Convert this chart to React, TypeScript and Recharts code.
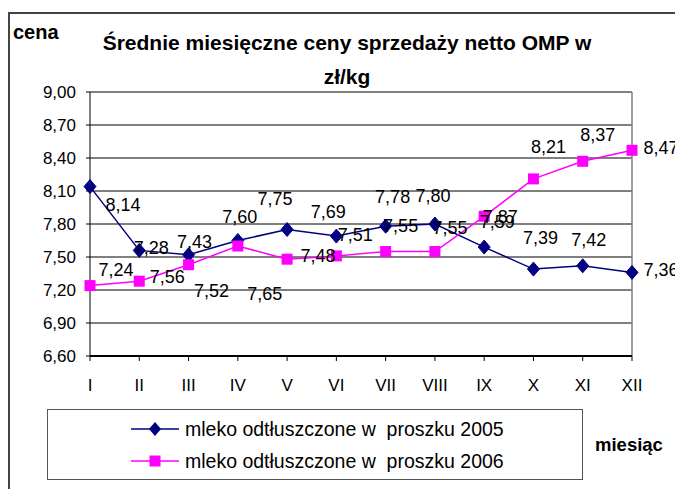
import {
  CartesianGrid,
  LabelList,
  Line,
  LineChart,
  ReferenceLine,
  XAxis,
  YAxis,
} from "recharts";

const months = ["I", "II", "III", "IV", "V", "VI", "VII", "VIII", "IX", "X", "XI", "XII"];
const prices2005 = [8.14, 7.56, 7.52, 7.65, 7.75, 7.69, 7.78, 7.8, 7.59, 7.39, 7.42, 7.36];
const prices2006 = [7.24, 7.28, 7.43, 7.6, 7.48, 7.51, 7.55, 7.55, 7.87, 8.21, 8.37, 8.47];
const yTicks = [6.6, 6.9, 7.2, 7.5, 7.8, 8.1, 8.4, 8.7, 9.0];

// label placement relative to each point (the original has them shuffled around)
const labelShift2005 = [
  [33, 18], [28, 27], [23, 36], [27, 53], [-12, -31], [-8, -24],
  [7, -29], [-2, -28], [13, -25], [7, -31], [6, -26], [29, -2],
];
const labelShift2006 = [
  [26, -16], [12, -33], [6, -23], [2, -29], [31, -3], [19, -21],
  [15, -26], [15, -24], [16, 1], [15, -32], [15, -26], [29, -2],
];

const NAVY = "#000080";
const MAGENTA = "#FF00FF";
const FONT = "'Liberation Sans', Arial, sans-serif";

const data = months.map((m, i) => ({
  month: m,
  y2005: prices2005[i],
  y2006: prices2006[i],
}));

const fmt = (v: number) => Number(v).toFixed(2).replace(".", ",");

function Diamond({ cx, cy }: any) {
  if (cx == null || cy == null) return null;
  return (
    <polygon
      points={`${cx},${cy - 7} ${cx + 6},${cy} ${cx},${cy + 7} ${cx - 6},${cy}`}
      fill={NAVY}
      stroke={NAVY}
    />
  );
}

function Square({ cx, cy }: any) {
  if (cx == null || cy == null) return null;
  return <rect x={cx - 5.5} y={cy - 5.5} width={11} height={11} fill={MAGENTA} />;
}

const labelRenderer = (shifts: number[][]) => (props: any) => {
  const { x, y, value, index } = props;
  const [dx, dy] = shifts[index] ?? [0, 0];
  return (
    <text
      x={Number(x) + dx}
      y={Number(y) + dy}
      textAnchor="middle"
      dominantBaseline="central"
      fontSize={18}
      fontFamily={FONT}
      fill="#000"
    >
      {fmt(value)}
    </text>
  );
};

function LegendBox() {
  const rows = [
    { label: "mleko odtłuszczone w  proszku 2005", color: NAVY, shape: "diamond" },
    { label: "mleko odtłuszczone w  proszku 2006", color: MAGENTA, shape: "square" },
  ];
  return (
    <div
      style={{
        position: "absolute",
        left: 39,
        top: 401,
        width: 534,
        height: 69,
        border: "1px solid #555",
        background: "#fff",
      }}
    >
      {rows.map((r, i) => (
        <div
          key={r.label}
          style={{
            position: "absolute",
            left: 83,
            top: 19 + i * 32 - 12,
            height: 24,
            display: "flex",
            alignItems: "center",
            whiteSpace: "pre",
          }}
        >
          <svg width={50} height={16} style={{ marginRight: 4 }}>
            <line x1={0} x2={48} y1={8} y2={8} stroke={r.color} strokeWidth={1.5} />
            {r.shape === "diamond" ? (
              <polygon points="24,1 30,8 24,15 18,8" fill={r.color} />
            ) : (
              <rect x={18.5} y={2.5} width={11} height={11} fill={r.color} />
            )}
          </svg>
          <span style={{ fontSize: 19.5, color: "#000" }}>{r.label}</span>
        </div>
      ))}
    </div>
  );
}

export default function App() {
  return (
    <div
      style={{
        position: "relative",
        width: 675,
        height: 481,
        overflow: "hidden",
        fontFamily: FONT,
        background: "#fff",
      }}
    >
      <div
        style={{
          position: "absolute",
          left: 0,
          top: 4,
          width: 675,
          height: 477,
          borderLeft: "2px solid #444",
          borderTop: "2px solid #444",
        }}
      />
      <div
        style={{
          position: "absolute",
          left: 5,
          top: 12,
          fontSize: 20,
          fontWeight: "bold",
          lineHeight: "24px",
        }}
      >
        cena
      </div>
      <div
        style={{
          position: "absolute",
          left: 39,
          width: 600,
          top: 18,
          textAlign: "center",
          fontSize: 21,
          fontWeight: "bold",
          lineHeight: "34px",
        }}
      >
        Średnie miesięczne ceny sprzedaży netto OMP w
        <br />
        zł/kg
      </div>
      <div
        style={{
          position: "absolute",
          left: 587,
          top: 425,
          fontSize: 18.5,
          fontWeight: "bold",
          lineHeight: "24px",
        }}
      >
        miesiąc
      </div>
      <div style={{ position: "absolute", left: 0, top: 0 }}>
        <LineChart
          width={675}
          height={481}
          data={data}
          margin={{ top: 84, right: 51, left: 2, bottom: 93 }}
        >
          <CartesianGrid horizontal vertical={false} stroke="#000" strokeWidth={1} />
          <XAxis
            dataKey="month"
            height={40}
            stroke="#000"
            strokeWidth={2}
            tickSize={5}
            tickMargin={18}
            tick={{ fill: "#000", fontSize: 17, fontFamily: FONT }}
            tickLine={{ stroke: "#000", strokeWidth: 1 }}
            interval={0}
          />
          <YAxis
            width={80}
            domain={[6.6, 9.0]}
            ticks={yTicks}
            stroke="#000"
            tickSize={4}
            tickMargin={10}
            tickFormatter={fmt}
            tick={{ fill: "#000", fontSize: 17, fontFamily: FONT }}
            allowDataOverflow
          />
          <ReferenceLine x="XII" stroke="#808080" strokeWidth={1.5} />
          <Line
            dataKey="y2005"
            stroke={NAVY}
            strokeWidth={1.5}
            dot={<Diamond />}
            activeDot={false}
            isAnimationActive={false}
          >
            <LabelList dataKey="y2005" content={labelRenderer(labelShift2005)} />
          </Line>
          <Line
            dataKey="y2006"
            stroke={MAGENTA}
            strokeWidth={1.5}
            dot={<Square />}
            activeDot={false}
            isAnimationActive={false}
          >
            <LabelList dataKey="y2006" content={labelRenderer(labelShift2006)} />
          </Line>
        </LineChart>
      </div>
      <LegendBox />
    </div>
  );
}
